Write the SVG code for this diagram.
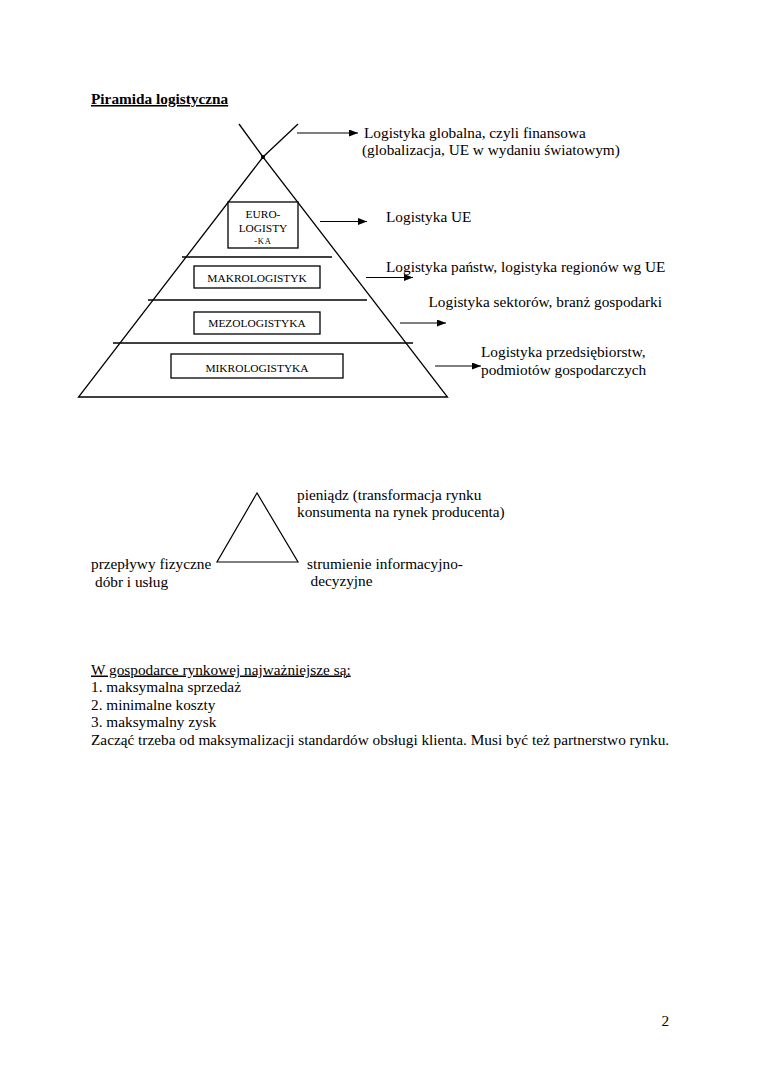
<svg xmlns="http://www.w3.org/2000/svg" width="760" height="1075" viewBox="0 0 760 1075">
<style>
  text { font-family: "Liberation Serif", "Times New Roman", serif; fill: #000; }
  .t { font-size: 15.3px; }
  .title { font-size: 15.3px; font-weight: bold; text-decoration: underline; }
  .u { text-decoration: underline; }
  .bx { font-size: 11.4px; text-anchor: middle; }
  .ln { stroke: #000; stroke-width: 1.3; fill: none; }
  .box { stroke: #000; stroke-width: 1.3; fill: #fff; }
  .ar { stroke: #000; stroke-width: 1.1; fill: none; marker-end: url(#ah); }
</style>
<defs>
  <marker id="ah" markerUnits="userSpaceOnUse" markerWidth="9" markerHeight="7" refX="9" refY="3.5" orient="auto">
    <path d="M0,0 L9,3.5 L0,7 z" fill="#000"/>
  </marker>
</defs>
<rect width="760" height="1075" fill="#fff"/>

<text id="title" class="title" x="91" y="104">Piramida logistyczna</text>

<g id="pyramid">
  <line class="ln" x1="239" y1="124" x2="263" y2="157"/>
  <line class="ln" x1="298" y1="124" x2="263" y2="157"/>
  <circle cx="263" cy="157" r="2" fill="#000"/>
  <polygon class="ln" points="263,157 78.5,397 447.5,397"/>
  <line class="ln" x1="182" y1="257" x2="332" y2="257"/>
  <line class="ln" x1="148" y1="300" x2="367" y2="300"/>
  <line class="ln" x1="113" y1="343" x2="413" y2="343"/>
</g>

<g id="node-euro">
  <rect class="box" x="228" y="202" width="70" height="46"/>
  <text class="bx" x="263" y="217.5">EURO-</text>
  <text class="bx" x="263" y="232">LOGISTY</text>
  <text class="bx" x="263" y="243.5" style="font-size:8.5px;letter-spacing:0.8px">-KA</text>
</g>
<g id="node-makro">
  <rect class="box" x="194" y="266" width="126" height="22"/>
  <text class="bx" x="257" y="281.5">MAKROLOGISTYK</text>
</g>
<g id="node-mezo">
  <rect class="box" x="194" y="312" width="126" height="22"/>
  <text class="bx" x="257" y="327.3">MEZOLOGISTYKA</text>
</g>
<g id="node-mikro">
  <rect class="box" x="171" y="354" width="172" height="24"/>
  <text class="bx" x="257" y="371.5">MIKROLOGISTYKA</text>
</g>

<g id="connectors">
  <line class="ar" x1="297" y1="133" x2="358" y2="133"/>
  <line class="ar" x1="320" y1="221.5" x2="367" y2="221.5"/>
  <line class="ar" x1="366" y1="277.5" x2="413" y2="277.5"/>
  <line class="ar" x1="400" y1="323" x2="446" y2="323"/>
  <line class="ar" x1="435" y1="366" x2="481" y2="366"/>
</g>

<g id="label-global">
  <text class="t" x="364" y="137.5">Logistyka globalna, czyli finansowa</text>
  <text class="t" x="362" y="154.5">(globalizacja, UE w wydaniu światowym)</text>
</g>
<g id="label-ue"><text class="t" x="386" y="221.5">Logistyka UE</text></g>
<g id="label-makro"><text class="t" x="386" y="272">Logistyka państw, logistyka regionów wg UE</text></g>
<g id="label-mezo"><text class="t" x="428.5" y="306.5">Logistyka sektorów, branż gospodarki</text></g>
<g id="label-mikro">
  <text class="t" x="481" y="357">Logistyka przedsiębiorstw,</text>
  <text class="t" x="481" y="374.5">podmiotów gospodarczych</text>
</g>

<g id="triangle">
  <polygon class="ln" points="257,493 217,562 298,562" style="stroke-width:1.2"/>
</g>
<g id="label-money">
  <text class="t" x="297" y="499.5">pieniądz (transformacja rynku</text>
  <text class="t" x="297" y="517">konsumenta na rynek producenta)</text>
</g>
<g id="label-flows">
  <text class="t" x="91" y="569">przepływy fizyczne</text>
  <text class="t" x="95" y="586.5">dóbr i usług</text>
</g>
<g id="label-info">
  <text class="t" x="307" y="568.5">strumienie informacyjno-</text>
  <text class="t" x="310.5" y="586">decyzyjne</text>
</g>

<g id="body-text">
  <text class="t u" x="91" y="674.5">W gospodarce rynkowej najważniejsze są:</text>
  <text class="t" x="91" y="692">1. maksymalna sprzedaż</text>
  <text class="t" x="91" y="709.7">2. minimalne koszty</text>
  <text class="t" x="91" y="727.3">3. maksymalny zysk</text>
  <text class="t" x="91" y="745">Zacząć trzeba od maksymalizacji standardów obsługi klienta. Musi być też partnerstwo rynku.</text>
</g>

<text id="page-number" class="t" x="661.5" y="1026">2</text>
</svg>
